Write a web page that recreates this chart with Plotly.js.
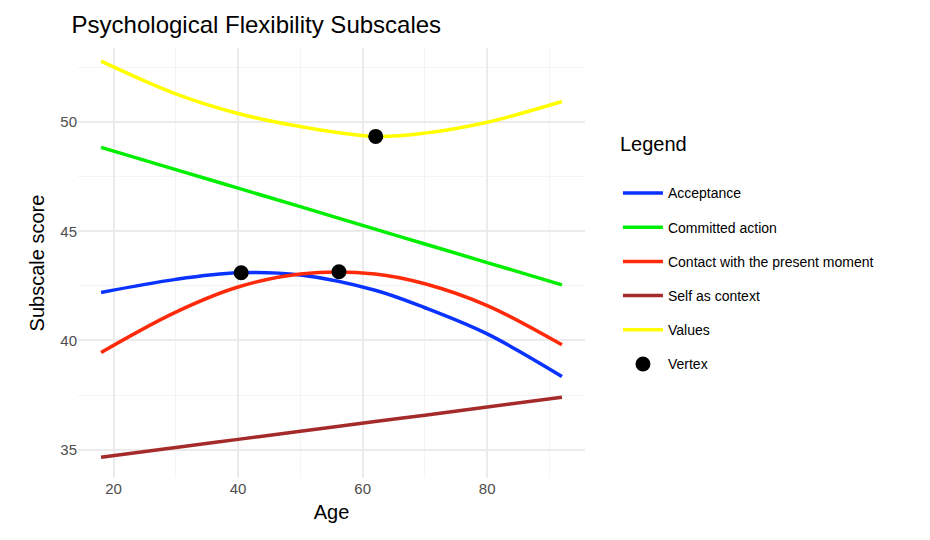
<!DOCTYPE html>
<html><head><meta charset="utf-8">
<script src="https://cdn.plot.ly/plotly-3.0.1.min.js"></script>
<style>body{margin:0;background:#fff}</style></head>
<body><div id="chart" style="width:930px;height:540px"></div>
<script>
const ages = [18, 30, 40, 50, 62, 70, 80, 92];
const acceptance = [42.2, 42.8, 43.1, 43.0, 42.3, 41.5, 40.3, 38.35];
const committed = [48.85, 47.83, 46.98, 46.13, 45.1, 44.42, 43.57, 42.55];
const contact = [39.45, 41.3, 42.45, 43.05, 43.05, 42.6, 41.6, 39.8];
const selfCtx = [34.65, 35.1, 35.47, 35.84, 36.29, 36.58, 36.95, 37.4];
const values = [52.8, 51.3, 50.4, 49.8, 49.35, 49.5, 50.0, 50.95];
const vertexX = [40.5, 56.2, 62.1];
const vertexY = [43.1, 43.15, 49.35];

const series = [
  ['Acceptance', acceptance, '#0a33ff'],
  ['Committed action', committed, '#00ee00'],
  ['Contact with the present moment', contact, '#ff2a0a'],
  ['Self as context', selfCtx, '#a52a2a'],
  ['Values', values, '#ffff00']
];
const traces = series.map((s, i) => ({
  x: ages, y: s[1], name: s[0], type: 'scatter', mode: 'lines', legendgroup: 'g' + i,
  line: { color: s[2], width: 3.5, shape: 'spline', smoothing: 1 }
}));
traces.push({
  x: vertexX, y: vertexY, name: 'Vertex', type: 'scatter', mode: 'markers', legendgroup: 'gv',
  marker: { color: 'black', size: 15 }
});

const layout = {
  width: 930, height: 540,
  margin: { l: 78, r: 345, t: 48, b: 62 },
  font: { family: 'Liberation Sans, Arial, sans-serif', color: '#000' },
  title: { text: 'Psychological Flexibility Subscales', x: 0.077, xanchor: 'left', y: 0.97, font: { size: 24 } },
  xaxis: {
    title: { text: 'Age', font: { size: 20 }, standoff: 8 },
    range: [14.3, 95.7], tickvals: [20, 40, 60, 80], showline: false, zeroline: false,
    gridcolor: '#ebebeb', gridwidth: 1.5, tickfont: { size: 15, color: '#4d4d4d' },
    minor: { tickvals: [30, 50, 70, 90], showgrid: true, gridcolor: '#f4f4f4', gridwidth: 1 }
  },
  yaxis: {
    title: { text: 'Subscale score', font: { size: 20 }, standoff: 10 },
    range: [33.7, 53.4], tickvals: [35, 40, 45, 50], showline: false, zeroline: false,
    gridcolor: '#ebebeb', gridwidth: 1.5, tickfont: { size: 15, color: '#4d4d4d' },
    minor: { tickvals: [37.5, 42.5, 47.5, 52.5], showgrid: true, gridcolor: '#f4f4f4', gridwidth: 1 }
  },
  plot_bgcolor: 'white', paper_bgcolor: 'white',
  showlegend: true,
  legend: {
    x: 1.065, xanchor: 'left', y: 0.82, yanchor: 'top',
    title: { text: 'Legend<br> ', font: { size: 20 } },
    font: { size: 14 }, tracegroupgap: 13, itemwidth: 40
  }
};
Plotly.newPlot('chart', traces, layout, { displayModeBar: false });
</script></body></html>
